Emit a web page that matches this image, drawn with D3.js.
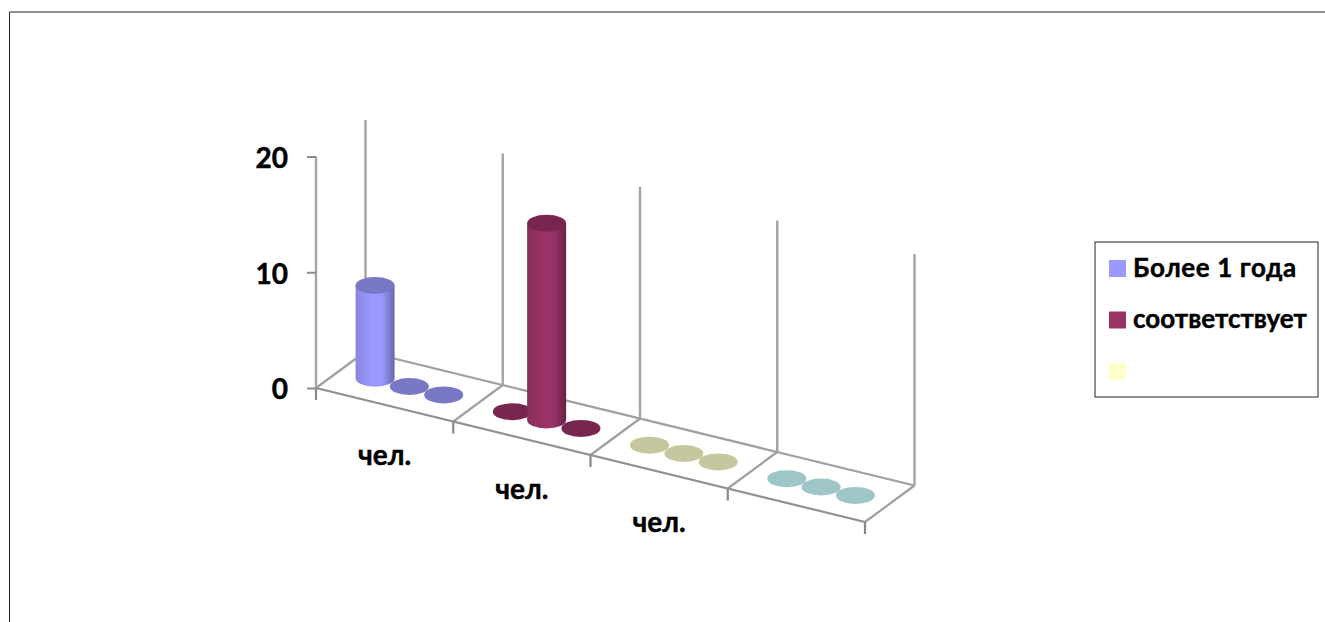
<!DOCTYPE html>
<html>
<head>
<meta charset="utf-8">
<script src="https://cdn.jsdelivr.net/npm/d3@7"></script>
<style>
  html, body { margin: 0; padding: 0; background: #fff; overflow: hidden; }
  text { font-family: Lato, "Open Sans", sans-serif; font-weight: 700; fill: #000; stroke: #000; stroke-width: 0.45px; }
</style>
</head>
<body>
<script>
// values
const categories = ["чел.", "чел.", "чел.", ""];
const seriesNames = ["Более 1 года", "соответствует", ""];
const row1 = [8, 0, 0];
const row2 = [0, 17, 0];
const row3 = [0, 0, 0];
const row4 = [0, 0, 0];
const yTicks = [0, 10, 20];

const rows = [row1, row2, row3, row4];
const sideColors = ["#9999ff", "#993366", "#ffffcc", "#ccffff"];
const topColors = ["#7878c6", "#78264f", "#c6c69f", "#9fc6c6"];

var w = 1325, h = 622;

var svg = d3.select("body").append("svg")
  .attr("width", w)
  .attr("height", h)
  .style("display", "block");

// oblique projection: category along the floor, depth into the chart, value upwards
var catX = d3.scaleLinear().domain([0, categories.length]).range([316, 865]);
var catY = d3.scaleLinear().domain([0, categories.length]).range([388, 522]);
var depX = d3.scaleLinear().domain([0, 1]).range([0, 49.5]);
var depY = d3.scaleLinear().domain([0, 1]).range([0, -36.5]);
var valY = d3.scaleLinear().domain([0, 20]).range([0, -231.5]);

function px(c, d) { return catX(c) + depX(d); }
function py(c, d, v) { return catY(c) + depY(d) + valY(v || 0); }

var defs = svg.append("defs");
defs.append("filter").attr("id", "soft")
  .append("feGaussianBlur").attr("stdDeviation", 0.6);

sideColors.forEach(function(col, i) {
  var g = defs.append("linearGradient").attr("id", "cyl" + i);
  var dark = d3.color(col).darker(1.1);
  var mid = d3.color(col).darker(0.35);
  g.append("stop").attr("offset", "0%").attr("stop-color", mid);
  g.append("stop").attr("offset", "40%").attr("stop-color", col);
  g.append("stop").attr("offset", "68%").attr("stop-color", col);
  g.append("stop").attr("offset", "100%").attr("stop-color", dark);
});

// outer frame, only top and left are visible
svg.append("path")
  .attr("d", "M9.5,622V12H1325")
  .attr("fill", "none")
  .attr("stroke", "#222")
  .attr("stroke-width", 1);

var plot = svg.append("g").attr("filter", "url(#soft)");
var grey = "#a0a0a0";
var catIdx = d3.range(categories.length + 1);

// back walls
plot.selectAll(".wall").data(catIdx).enter().append("line")
  .attr("x1", c => px(c, 1)).attr("x2", c => px(c, 1))
  .attr("y1", c => py(c, 1)).attr("y2", c => py(c, 1, 20))
  .attr("stroke", "#a4a4a4").attr("stroke-width", 2.4);

// floor cross lines and ticks
plot.selectAll(".cross").data(catIdx).enter().append("line")
  .attr("x1", c => px(c, 0)).attr("x2", c => px(c, 1))
  .attr("y1", c => py(c, 0)).attr("y2", c => py(c, 1))
  .attr("stroke", grey).attr("stroke-width", 2.2);

plot.selectAll(".ctick").data(catIdx).enter().append("line")
  .attr("x1", c => px(c, 0)).attr("x2", c => px(c, 0))
  .attr("y1", c => py(c, 0)).attr("y2", c => py(c, 0) + 12)
  .attr("stroke", "#888").attr("stroke-width", 2.2);

[0, 1].forEach(function(d) {
  plot.append("line")
    .attr("x1", px(0, d)).attr("y1", py(0, d))
    .attr("x2", px(categories.length, d)).attr("y2", py(categories.length, d))
    .attr("stroke", d ? grey : "#909090").attr("stroke-width", 2.2);
});

// value axis
plot.append("line")
  .attr("x1", px(0, 0)).attr("x2", px(0, 0))
  .attr("y1", py(0, 0)).attr("y2", py(0, 0, 20))
  .attr("stroke", "#a4a4a4").attr("stroke-width", 2.4);

var axisScale = d3.scaleLinear().domain([0, 20]).range([py(0, 0), py(0, 0, 20)]);
var yAxis = svg.append("g")
  .attr("transform", "translate(" + px(0, 0) + ",0)")
  .call(d3.axisLeft(axisScale).tickValues(yTicks).tickFormat(d3.format("d")).tickSize(9).tickPadding(19));
yAxis.select(".domain").remove();
yAxis.selectAll("line").attr("stroke", "#8c8c8c").attr("stroke-width", 2);
yAxis.selectAll("text").attr("font-size", 28).attr("dy", "0.39em").style("font-family", null);

// cylinders, every series a step along the category
var rx = 19.5, ry = 8.5;
rows.forEach(function(vals, c) {
  vals.forEach(function(v, s) {
    var pos = c + (s + 1) / (vals.length + 1);
    var x = px(pos, 0.5), y0 = py(pos, 0.5), y1 = py(pos, 0.5, v);
    if (v > 0) {
      plot.append("path")
        .attr("d", `M${x - rx},${y1}L${x - rx},${y0}A${rx},${ry} 0 0 0 ${x + rx},${y0}L${x + rx},${y1}Z`)
        .attr("fill", "url(#cyl" + c + ")");
    }
    plot.append("ellipse")
      .attr("cx", x).attr("cy", y1)
      .attr("rx", rx).attr("ry", ry)
      .attr("fill", topColors[c]);
  });
});

// category labels
svg.selectAll(".cat").data(categories).enter().append("text")
  .attr("class", "cat")
  .attr("x", (d, i) => px(i + 0.5, 0))
  .attr("y", (d, i) => py(i + 0.5, 0) + 60.5)
  .attr("text-anchor", "middle")
  .attr("font-size", 28)
  .text(d => d);

// legend
var legend = svg.append("g");
legend.append("rect")
  .attr("x", 1095).attr("y", 242)
  .attr("width", 223).attr("height", 155)
  .attr("fill", "#fff").attr("stroke", "#222");

var legY = d3.scalePoint().domain(d3.range(seriesNames.length)).range([268.5, 371.5]);
seriesNames.forEach(function(name, i) {
  legend.append("rect")
    .attr("x", 1109).attr("y", legY(i) - 8.5)
    .attr("width", 17).attr("height", 17)
    .attr("fill", sideColors[i]);
  legend.append("text")
    .attr("x", 1133).attr("y", legY(i) + 8)
    .attr("font-size", 26)
    .attr("letter-spacing", i === 0 ? 0.6 : 0)
    .text(name);
});
</script>
</body>
</html>
